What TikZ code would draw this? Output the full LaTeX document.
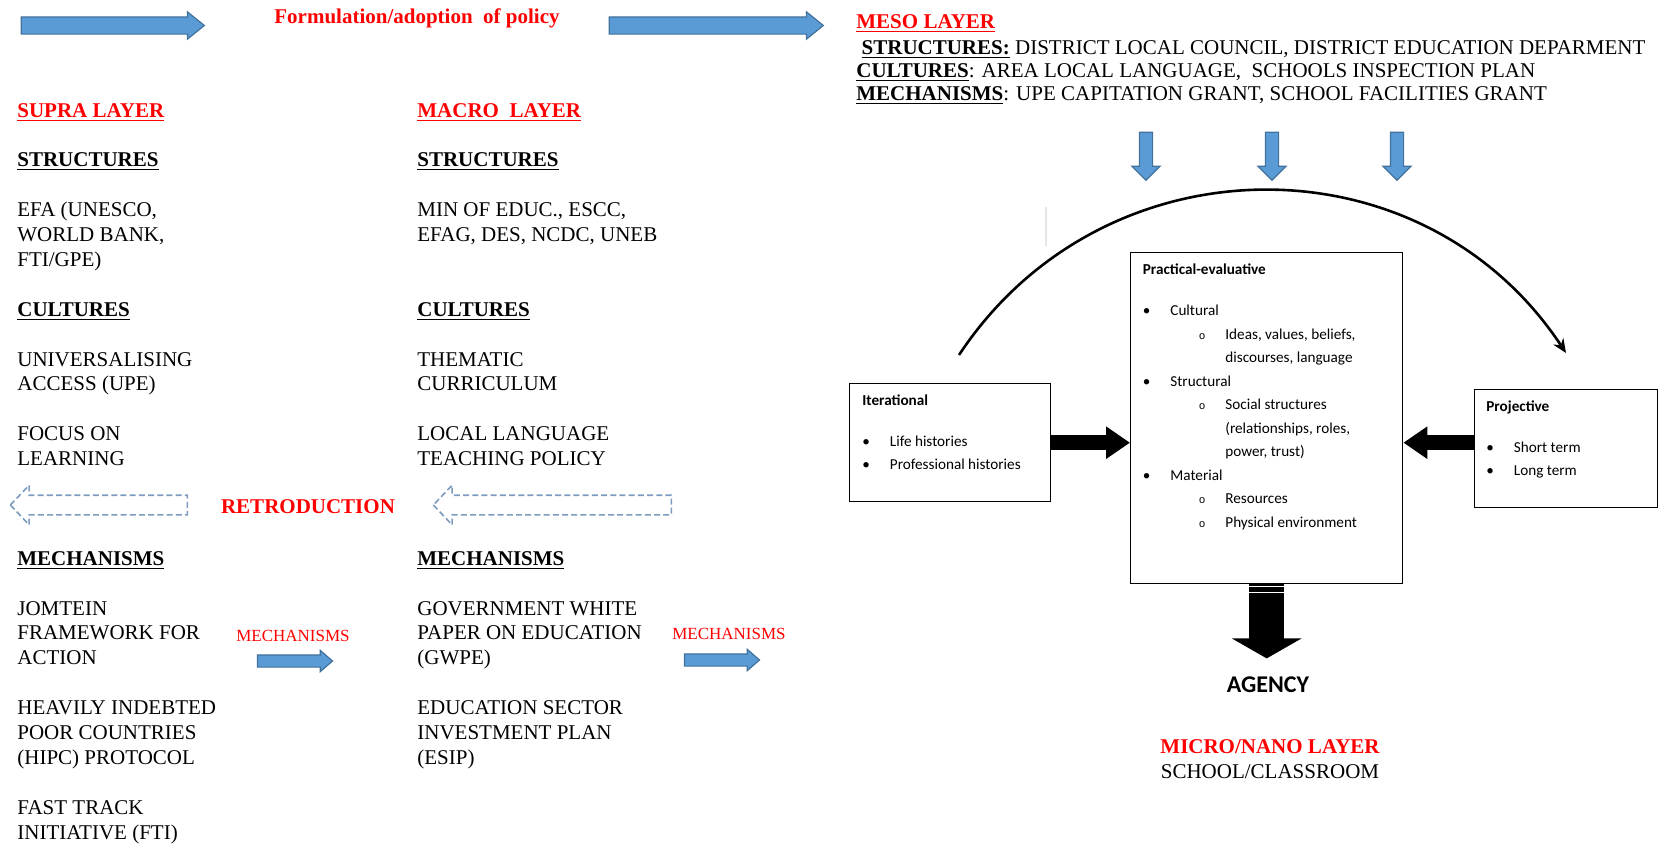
\documentclass[tikz,border=0pt]{standalone}
\usepackage{fontspec}
\setmainfont{Liberation Serif}
\newfontfamily\calibri{Carlito}
\newfontfamily\couriernew{Liberation Mono}
\usepackage{tikz}
\definecolor{arrowblue}{RGB}{91,155,213}
\definecolor{arrowedge}{RGB}{65,113,156}
\definecolor{dashblue}{RGB}{125,155,190}
\definecolor{layerred}{RGB}{255,0,0}
\usetikzlibrary{arrows.meta,shapes.arrows}
\newcommand{\pbul}[1]{\makebox[13.75pt][l]{\textbullet}#1}
\newcommand{\pcirc}[1]{\hspace*{28pt}\makebox[13.25pt][l]{{\couriernew\fontsize{5.5}{6}\selectfont o}}#1}
\newcommand{\pcont}[1]{\hspace*{41.25pt}#1}
\tikzset{
  txt/.style = {anchor=base west, inner sep=0pt, align=left,
    font=\fontsize{10.5}{12.45}\selectfont},% multi-line: base = last line
  layer/.style = {txt, text=layerred, font=\fontsize{10.5}{12.45}\selectfont\bfseries},
  redmid/.style = {anchor=base, inner sep=0pt, text=layerred,
    font=\fontsize{10.5}{12.45}\selectfont\bfseries},
  mechlabel/.style = {anchor=base, inner sep=0pt, text=layerred,
    font=\fontsize{8.5}{10}\selectfont},
  blockarrow/.style = {single arrow, draw=arrowedge, fill=arrowblue,
    inner xsep=0pt, line width=0.6pt},
  flowarrow/.style = {blockarrow, inner ysep=4pt,
    single arrow head extend=2.5pt, single arrow tip angle=78},
  downarrow/.style = {blockarrow, minimum height=24pt, inner ysep=0pt, inner xsep=3pt,
    single arrow head extend=3.75pt, shape border rotate=270},
  mecharrow/.style = {blockarrow, minimum height=37.5pt, inner ysep=2.75pt,
    single arrow head extend=2.25pt, single arrow tip angle=82},
  retroarrow/.style = {single arrow, draw=dashblue, dash pattern=on 3pt off 1.6pt,
    line width=0.8pt, inner xsep=0pt, inner ysep=4.5pt,
    single arrow head extend=5pt, single arrow tip angle=93,
    shape border rotate=180},
  agbox/.style = {draw, line width=0.7pt, inner sep=0pt, anchor=north west},
  boxtxt/.style = {anchor=base west, inner sep=0pt, align=left,
    font=\calibri\fontsize{7.6}{11.75}\selectfont},
  pusharrow/.style = {line width=7.5pt, -{Triangle[length=12pt,width=15.5pt]}},
  agencyarrow/.style = {line width=17.5pt, -{Triangle[length=10pt,width=34.5pt]}},
}

\begin{document}
\begin{tikzpicture}[x=0.5pt, y=-0.5pt]
\useasboundingbox (0,0) rectangle (1662,846);

% policy flow
\node[flowarrow, minimum height=91.5pt] (flowL) at (107.5,25.5) {};
\node[redmid] (policy) at (417,24) {Formulation/adoption\ \ of policy};
\node[flowarrow, minimum height=107pt] (flowR) at (711,25.5) {};

% supra layer
\node[layer] (supra) at (17,117) {\underline{SUPRA LAYER}};
\node[txt] (supraS) at (17,166.8) {\textbf{\underline{STRUCTURES}}};
\node[txt] (supraS1) at (17,266.4) {EFA (UNESCO,\\WORLD BANK,\\FTI/GPE)};
\node[txt] (supraC) at (17,316.2) {\textbf{\underline{CULTURES}}};
\node[txt] (supraC1) at (17,390.9) {UNIVERSALISING\\ACCESS (UPE)};
\node[txt] (supraC2) at (17,465.6) {FOCUS ON\\LEARNING};
\node[txt] (supraM) at (17,565.2) {\textbf{\underline{MECHANISMS}}};
\node[txt] (supraM1) at (17,664.8) {JOMTEIN\\FRAMEWORK FOR\\ACTION};
\node[txt] (supraM2) at (17,764.4) {HEAVILY INDEBTED\\POOR COUNTRIES\\(HIPC) PROTOCOL};
\node[txt] (supraM3) at (17,839.1) {FAST TRACK\\INITIATIVE (FTI)};

% macro layer
\node[layer] (macro) at (417,117) {\underline{MACRO\ \ LAYER}};
\node[txt] (macroS) at (417,166.8) {\textbf{\underline{STRUCTURES}}};
\node[txt] (macroS1) at (417,241.5) {MIN OF EDUC., ESCC,\\EFAG, DES, NCDC, UNEB};
\node[txt] (macroC) at (417,316.2) {\textbf{\underline{CULTURES}}};
\node[txt] (macroC1) at (417,390.9) {THEMATIC\\CURRICULUM};
\node[txt] (macroC2) at (417,465.6) {LOCAL LANGUAGE\\TEACHING POLICY};
\node[txt] (macroM) at (417,565.2) {\textbf{\underline{MECHANISMS}}};
\node[txt] (macroM1) at (417,664.8) {GOVERNMENT WHITE\\PAPER ON EDUCATION\\(GWPE)};
\node[txt] (macroM2) at (417,764.4) {EDUCATION SECTOR\\INVESTMENT PLAN\\(ESIP)};

% retroduction
\node[retroarrow, minimum height=88.5pt] (retroL) at (103.5,505) {};
\node[redmid] (retro) at (308,513) {RETRODUCTION};
\node[retroarrow, minimum height=119pt] (retroR) at (557,505) {};

% mechanisms arrows
\node[mechlabel] (mechL) at (293,641.5) {MECHANISMS};
\node[mecharrow] (mechArrL) at (291.5,661) {};
\node[mechlabel] (mechR) at (729,639.5) {MECHANISMS};
\node[mecharrow] (mechArrR) at (718.5,660) {};

% meso layer
\node[layer] (meso) at (856,28) {\underline{MESO LAYER}};
\node[txt, font=\fontsize{10.5}{11.5}\selectfont] (mesoText) at (856,100)
  {\ \textbf{\underline{STRUCTURES:}} DISTRICT LOCAL COUNCIL, DISTRICT EDUCATION DEPARMENT\\
   \textbf{\underline{CULTURES}}: AREA LOCAL LANGUAGE,\ \ SCHOOLS INSPECTION PLAN\\
   \textbf{\underline{MECHANISMS}}: UPE CAPITATION GRANT, SCHOOL FACILITIES GRANT};
\foreach \x in {1146,1272,1397}
  \node[downarrow] (down\x) at (\x,153) {};

% agency
\draw[gray!20, line width=0.6pt] (1046,207) -- (1046,246);
\node[agbox, minimum width=100.5pt, minimum height=59pt] (iter) at (849,383) {};
\node[boxtxt] (iterText) at ([shift={(13,86.5)}]iter.north west)
  {\textbf{Iterational}\\[8.75pt]
   \pbul{Life histories}\\
   \pbul{Professional histories}};
\node[agbox, minimum width=136pt, minimum height=165.5pt] (prac) at (1130,252) {};
\node[boxtxt] (pracText) at ([shift={(12.5,275)}]prac.north west)
  {\textbf{Practical-evaluative}\\[8.75pt]
   \pbul{Cultural}\\
   \pcirc{Ideas, values, beliefs,}\\
   \pcont{discourses, language}\\
   \pbul{Structural}\\
   \pcirc{Social structures}\\
   \pcont{(relationships, roles,}\\
   \pcont{power, trust)}\\
   \pbul{Material}\\
   \pcirc{Resources}\\
   \pcirc{Physical environment}};
\node[agbox, minimum width=91.5pt, minimum height=59pt] (proj) at (1474,389) {};
\node[boxtxt] (projText) at ([shift={(12,86.5)}]proj.north west)
  {\textbf{Projective}\\[8.75pt]
   \pbul{Short term}\\
   \pbul{Long term}};

\draw[pusharrow] (iter.east) -- (iter.east -| prac.west);
\draw[pusharrow] ([yshift=3pt]proj.west) -- ([yshift=3pt]proj.west -| prac.east);

\coordinate (curveStart) at (959,355);
\coordinate (curveEnd) at (1566,353);
\draw[line width=1.3pt, -{Stealth[length=7pt,width=6pt]}]
  (curveStart) .. controls (1103,137) and (1422,135) .. (curveEnd);

\coordinate (agencyTip) at ([yshift=-37pt]prac.south);
\draw[agencyarrow] (prac.south) -- (agencyTip);
\foreach \dy in {1,4}
  \draw[white, line width=0.9pt] ([xshift=-8.75pt,yshift=-\dy pt]prac.south) -- ++(35,0);
\node[anchor=base, inner sep=0pt, font=\calibri\fontsize{12}{14}\selectfont\bfseries]
  (agency) at (1268,692) {AGENCY};
\node[redmid] (micro) at (1270,753) {MICRO/NANO LAYER};
\node[anchor=base, inner sep=0pt, font=\fontsize{10.5}{12.45}\selectfont]
  (school) at (1270,778) {SCHOOL/CLASSROOM};
\end{tikzpicture}
\end{document}
